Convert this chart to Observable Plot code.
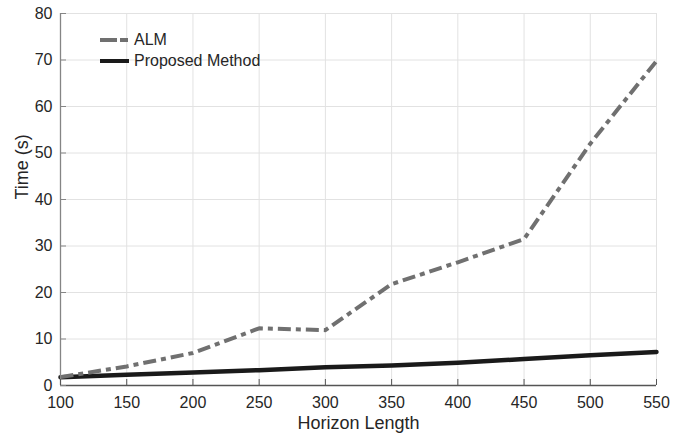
<!DOCTYPE html>
<html><head><meta charset="utf-8">
<script src="https://cdn.jsdelivr.net/npm/d3@7"></script>
<script src="https://cdn.jsdelivr.net/npm/@observablehq/plot@0.6"></script>
<style>
body{margin:0;background:#fff;font-family:"Liberation Sans",Arial,sans-serif;}
#wrap{position:relative;width:683px;height:438px;}
#legend{position:absolute;left:100px;top:29px;font-size:16px;color:#262626;line-height:21px;}
#legend div{display:flex;align-items:center;height:21px;}
#legend svg{margin-right:5px;}
</style></head>
<body><div id="wrap"><div id="legend"></div></div>
<script>
const horizon = [100,150,200,250,300,350,400,450,500,550];
const alm = [1.8,4.1,7.0,12.3,11.9,21.8,26.5,31.5,52.0,69.8];
const proposed = [1.8,2.3,2.8,3.3,3.9,4.3,4.9,5.7,6.5,7.2];
const xTicks = [100,150,200,250,300,350,400,450,500,550];
const yTicks = [0,10,20,30,40,50,60,70,80];
const seriesNames = ["ALM","Proposed Method"];
const seriesColors = ["#707070","#1a1a1a"];
const seriesDash = ["13,5,5,5",null];

const rows = [];
horizon.forEach((h,i)=>{
  rows.push({h, t: alm[i], s: seriesNames[0]});
  rows.push({h, t: proposed[i], s: seriesNames[1]});
});

const chart = Plot.plot({
  width: 683, height: 438,
  marginLeft: 60, marginRight: 27, marginTop: 13, marginBottom: 53,
  style: {fontFamily: '"Liberation Sans", Arial, sans-serif', fontSize: "16px", color: "#262626", background: "#fff"},
  x: {domain: [100,550], ticks: xTicks},
  y: {domain: [0,80], ticks: yTicks},
  marks: [
    Plot.gridX(xTicks, {stroke: "#e2e2e2", strokeOpacity: 1}),
    Plot.gridY(yTicks, {stroke: "#e2e2e2", strokeOpacity: 1}),
    Plot.line(rows.filter(d=>d.s===seriesNames[1]), {x:"h", y:"t", stroke: seriesColors[1], strokeWidth: 4.5}),
    Plot.line(rows.filter(d=>d.s===seriesNames[0]), {x:"h", y:"t", stroke: seriesColors[0], strokeWidth: 4, strokeDasharray: seriesDash[0], strokeLinecap: "butt"}),
    Plot.ruleX([100], {stroke: "#858585", strokeWidth: 1.3}),
    Plot.ruleY([0], {stroke: "#555555", strokeWidth: 1.3}),
    Plot.axisY(yTicks, {tickSize: -6, tickPadding: 14, stroke: "#858585", label: null, fontSize: 16}),
    Plot.axisX(xTicks, {tickSize: -6, tickPadding: 17, stroke: "#555555", label: null, fontSize: 16}),
    Plot.text(["Horizon Length"], {frameAnchor: "bottom", lineAnchor: "bottom", dy: 43, fontSize: 18, fill: "#262626"}),
    Plot.text(["Time (s)"], {frameAnchor: "left", dx: -38, rotate: -90, fontSize: 18, fill: "#262626"})
  ]
});
document.getElementById("wrap").prepend(chart);

const leg = document.getElementById("legend");
seriesNames.forEach((n,i)=>{
  const row = document.createElement("div");
  const dash = seriesDash[i] ? `stroke-dasharray="17,3,8,3"` : "";
  row.innerHTML = `<svg width="29" height="8"><line x1="0" x2="29" y1="4" y2="4" stroke="${seriesColors[i]}" stroke-width="4" ${dash}/></svg><span>${n}</span>`;
  leg.appendChild(row);
});
</script></body></html>
